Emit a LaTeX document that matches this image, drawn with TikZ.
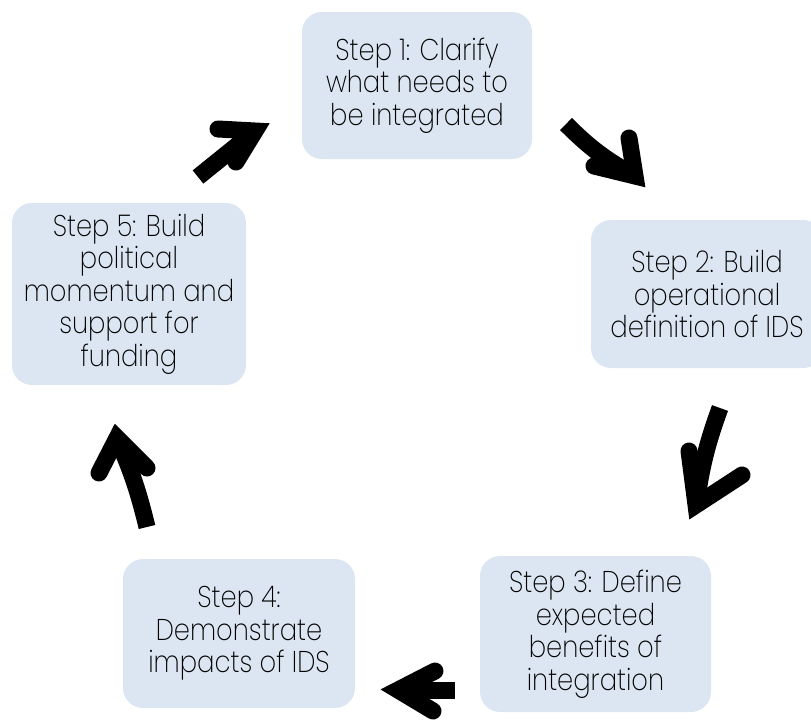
\documentclass[tikz,border=0pt]{standalone}
\usepackage{fontspec}
\setmainfont{Poppins}[UprightFont=* ExtraLight, FakeStretch=0.86]
\definecolor{boxfill}{HTML}{DCE6F2}
\tikzset{
  stepbox/.style={draw=none, fill=boxfill, rounded corners=20pt, align=center,
    inner sep=0pt, font=\fontsize{30}{32.5}\selectfont, text=black},
  shaft/.style={line width=17pt, line cap=butt, draw=black},
  head/.style={line width=17pt, line cap=round, line join=miter, draw=black},
}
\begin{document}
\begin{tikzpicture}[x=1pt,y=-1pt]
\useasboundingbox (0,0) rectangle (811,723);
% boxes
\node[stepbox, minimum width=230pt, minimum height=147pt] (s1) at (417,85.5)
  {Step 1: Clarify\\what needs to\\be integrated};
\node[stepbox, minimum width=232pt, minimum height=148pt] (s2) at (707,294)
  {Step 2: Build\\operational\\definition of IDS};
\node[stepbox, minimum width=231pt, minimum height=156pt] (s3) at (595.5,634)
  {Step 3: Define\\expected\\benefits of\\integration};
\node[stepbox, minimum width=232pt, minimum height=149pt] (s4) at (239,633.5)
  {Step 4:\\Demonstrate\\impacts of IDS};
\node[stepbox, minimum width=234pt, minimum height=182pt] (s5) at (129,294)
  {Step 5: Build\\political\\momentum and\\support for\\funding};
% arrow 5 -> 1
\coordinate (a1s) at (198,177); \coordinate (a1v) at (255,131);
\coordinate (a1b1) at (218,129); \coordinate (a1b2) at (236,162);
\draw[shaft] (a1s) -- (a1v);
\draw[head] (a1b1) -- (a1v) -- (a1b2);
% arrow 1 -> 2
\coordinate (a2s) at (566,124); \coordinate (a2v) at (635,176);
\coordinate (a2b1) at (629,138); \coordinate (a2b2) at (594,166);
\draw[shaft] (a2s) to[bend right=8] (a2v);
\draw[head] (a2b1) -- (a2v) -- (a2b2);
% arrow 2 -> 3
\coordinate (a3s) at (720,408); \coordinate (a3v) at (696,505);
\coordinate (a3b1) at (689,451); \coordinate (a3b2) at (742,475);
\draw[shaft] (a3s) to[bend right=6] (a3v);
\draw[head] (a3b1) -- (a3v) -- (a3b2);
% arrow 3 -> 4
\coordinate (a4s) at (455,690); \coordinate (a4v) at (398,690);
\coordinate (a4b1) at (435,671); \coordinate (a4b2) at (433,711);
\draw[shaft] (a4s) -- (a4v);
\draw[head] (a4b1) -- (a4v) -- (a4b2);
% arrow 4 -> 5
\coordinate (a5s) at (147,527); \coordinate (a5v) at (117,438);
\coordinate (a5b1) at (99,473); \coordinate (a5b2) at (147,468);
\draw[shaft] (a5s) to[bend right=5] (a5v);
\draw[head] (a5b1) -- (a5v) -- (a5b2);
\end{tikzpicture}
\end{document}
